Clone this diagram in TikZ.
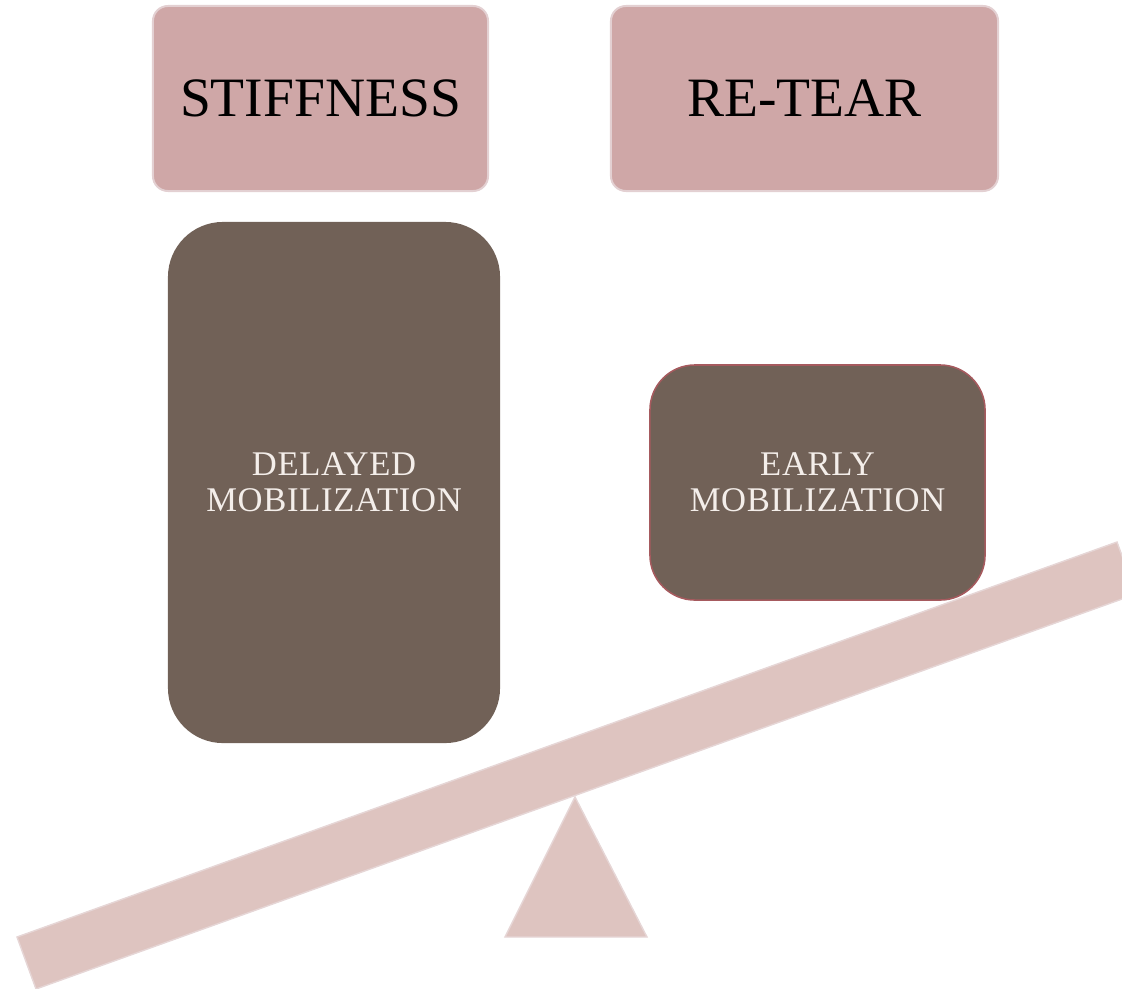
\documentclass[tikz,border=0pt]{standalone}
\usepackage{fontspec}
\setmainfont{Liberation Serif}
\usepackage{tikz}
\usetikzlibrary{positioning,shapes}
\usepackage{xcolor}

\definecolor{roseBox}{HTML}{CFA7A7}
\definecolor{roseEdge}{HTML}{E3D0D2}
\definecolor{brownBox}{HTML}{716157}
\definecolor{redEdge}{HTML}{A65A5E}
\definecolor{beamFill}{HTML}{DEC4C0}
\definecolor{beamEdge}{HTML}{E6D6D6}
\definecolor{textLight}{HTML}{F4EEEA}

\begin{document}
\begin{tikzpicture}[
    x=0.025cm, y=-0.025cm,
    risk/.style={rectangle, rounded corners=0.375cm, draw=roseEdge, line width=1.4pt, fill=roseBox, text=black, font=\fontsize{39.5}{42}\selectfont, inner sep=0pt, minimum height=4.625cm},
    mobil/.style={rectangle, fill=brownBox, text=textLight, align=center, font=\fontsize{24.6}{25.6}\selectfont\addfontfeature{LetterSpace=2}, inner sep=0pt},
    plank/.style={fill=beamFill, draw=beamEdge, line width=1pt}
]
\useasboundingbox (0,0) rectangle (1122,988);

% Outcome boxes
\node[risk, minimum width=8.375cm] (stiff) at (320.5,98.5) {STIFFNESS};
\node[risk, minimum width=9.675cm] (retear) at (804.5,98.5) {RE-TEAR};

% Mobilization weights
\node[mobil, rounded corners=1.375cm, minimum width=8.3cm, minimum height=13.025cm] (delayed) at (334,482.5) {DELAYED\\MOBILIZATION};
\node[mobil, rounded corners=1.125cm, draw=redEdge, line width=1.1pt, minimum width=8.375cm, minimum height=5.875cm] (early) at (817.5,482.5) {EARLY\\MOBILIZATION};

% Seesaw
\draw[plank] (575,797) -- (647,937) -- (505,937) -- cycle;
\begin{scope}
  \clip (0,0) rectangle (1122,988);
  \draw[plank] (17,937) -- (1117,542) -- (1136,594) -- (36,989) -- cycle;
\end{scope}

\end{tikzpicture}
\end{document}
